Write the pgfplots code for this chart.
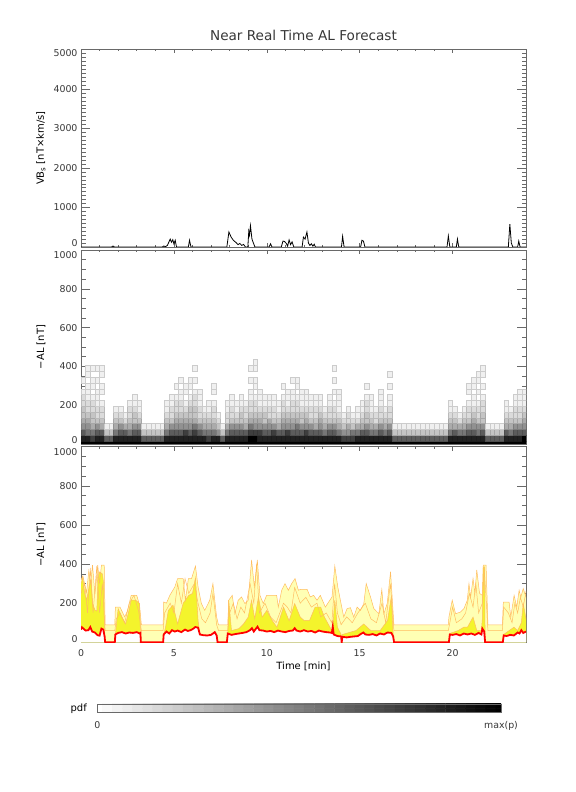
\documentclass[border=0pt]{standalone}
\usepackage{fontspec}
\setmainfont{DejaVu Sans}
\usepackage{pgfplots}
\pgfplotsset{compat=1.18}
\usepackage{pgfplotstable}

\definecolor{lyel}{RGB}{255,255,180}
\definecolor{byel}{RGB}{244,244,44}
\definecolor{orl}{RGB}{255,188,96}
\definecolor{txt}{RGB}{55,55,55}
\definecolor{frm}{RGB}{105,105,105}

\pgfdeclareplotmark{cell}{%
  \pgfpathrectangle{\pgfpoint{-2.3225bp}{-2.91bp}}{\pgfpoint{4.645bp}{5.82bp}}%
  \pgfusepathqfillstroke}

% pdf of -AL in 30 nT bins (b0 = 0 nT, b1 = 30 nT, ...), level 0..10
\pgfplotstableread{
t b0 b1 b2 b3 b4 b5 b6 b7 b8 b9 b10 b11 b12 b13 b14
0.125 10 9 7 5 4 3 3 2 2 1 0 1 0 0 0
0.375 10 9 6 5 4 3 2 2 1 1 1 0 1 1 0
0.625 10 8 6 4 3 3 2 2 1 0 1 1 0 1 0
0.875 10 9 7 5 3 2 2 1 1 1 0 1 0 1 0
1.125 10 9 7 4 3 2 2 1 0 1 1 0 1 1 0
1.375 10 7 3 1 0 0 0 0 0 0 0 0 0 0 0
1.625 10 7 3 1 0 0 0 0 0 0 0 0 0 0 0
1.875 10 9 6 4 3 2 1 0 0 0 0 0 0 0 0
2.125 10 9 7 5 3 2 1 0 0 0 0 0 0 0 0
2.375 10 9 7 4 2 1 0 0 0 0 0 0 0 0 0
2.625 10 9 6 4 3 2 2 1 0 0 0 0 0 0 0
2.875 10 9 7 5 3 3 2 1 1 0 0 0 0 0 0
3.125 10 9 7 5 3 2 1 1 0 0 0 0 0 0 0
3.375 10 7 3 1 0 0 0 0 0 0 0 0 0 0 0
3.625 10 7 3 1 0 0 0 0 0 0 0 0 0 0 0
3.875 10 7 3 1 0 0 0 0 0 0 0 0 0 0 0
4.125 10 7 3 1 0 0 0 0 0 0 0 0 0 0 0
4.375 10 7 3 1 0 0 0 0 0 0 0 0 0 0 0
4.625 10 9 6 4 3 2 1 1 0 0 0 0 0 0 0
4.875 10 9 7 5 3 2 2 1 1 0 0 0 0 0 0
5.125 10 9 7 5 4 3 2 2 1 0 1 0 0 0 0
5.375 10 9 7 5 4 3 2 2 1 1 0 1 0 0 0
5.625 10 9 8 5 4 3 2 1 0 1 1 0 0 0 0
5.875 10 9 7 5 4 3 3 2 1 0 1 1 0 0 0
6.125 10 9 8 6 4 3 3 2 2 1 0 1 0 1 0
6.375 10 9 7 5 3 2 2 1 1 1 0 0 0 0 0
6.625 10 9 6 4 3 2 1 0 0 0 0 0 0 0 0
6.875 10 8 6 4 3 2 1 1 0 0 0 0 0 0 0
7.125 10 9 6 4 3 2 2 1 0 1 1 0 0 0 0
7.375 10 9 5 3 2 1 0 0 0 0 0 0 0 0 0
7.625 10 7 3 1 0 0 0 0 0 0 0 0 0 0 0
7.875 10 9 6 4 2 2 1 1 0 0 0 0 0 0 0
8.125 10 9 7 5 3 2 2 1 1 0 0 0 0 0 0
8.375 10 9 7 5 3 2 1 1 0 0 0 0 0 0 0
8.625 10 9 7 5 3 3 2 1 1 0 0 0 0 0 0
8.875 10 9 7 4 3 2 2 1 0 0 0 0 0 0 0
9.125 10 10 8 6 4 3 2 2 1 1 0 1 0 1 0
9.375 10 10 8 5 4 3 2 2 1 0 1 1 0 1 1
9.625 10 9 8 5 4 3 2 1 1 1 0 0 0 0 0
9.875 10 9 7 5 3 3 2 1 1 0 0 0 0 0 0
10.125 10 9 7 5 4 2 2 1 1 0 0 0 0 0 0
10.375 10 9 8 5 3 2 2 1 1 0 0 0 0 0 0
10.625 10 9 7 4 3 2 1 1 0 0 0 0 0 0 0
10.875 10 9 7 5 4 3 2 2 1 0 1 0 0 0 0
11.125 10 9 8 5 4 3 2 1 1 1 0 0 0 0 0
11.375 10 9 7 5 4 3 2 2 1 1 0 1 0 0 0
11.625 10 9 7 6 4 3 2 2 1 0 1 1 0 0 0
11.875 10 9 7 5 3 3 2 1 1 1 0 0 0 0 0
12.125 10 9 8 5 4 3 2 1 1 1 0 0 0 0 0
12.375 10 9 7 5 3 2 2 1 1 0 0 0 0 0 0
12.625 10 9 7 4 3 2 2 1 1 0 0 0 0 0 0
12.875 10 9 7 5 4 3 2 1 1 0 0 0 0 0 0
13.125 10 9 6 4 3 2 1 0 0 0 0 0 0 0 0
13.375 10 9 7 5 3 2 2 1 1 0 0 0 0 0 0
13.625 10 9 7 5 3 2 2 1 0 1 0 1 0 1 0
13.875 10 9 6 4 3 2 1 1 1 1 0 0 0 0 0
14.125 10 8 5 3 2 1 0 0 0 0 0 0 0 0 0
14.375 10 8 5 4 2 2 1 0 0 0 0 0 0 0 0
14.625 10 8 6 3 2 1 0 0 0 0 0 0 0 0 0
14.875 10 9 6 4 2 1 1 0 0 0 0 0 0 0 0
15.125 10 9 7 4 3 2 1 1 0 0 0 0 0 0 0
15.375 10 9 7 5 3 3 2 2 1 0 1 0 0 0 0
15.625 10 9 6 4 3 2 1 1 1 0 0 0 0 0 0
15.875 10 9 6 4 2 2 1 0 0 0 0 0 0 0 0
16.125 10 9 7 5 3 2 2 1 1 1 0 0 0 0 0
16.375 10 9 6 4 3 2 1 0 0 0 0 0 0 0 0
16.625 10 9 7 5 3 2 2 1 1 0 1 0 1 0 0
16.875 10 7 3 1 0 0 0 0 0 0 0 0 0 0 0
17.125 10 7 3 1 0 0 0 0 0 0 0 0 0 0 0
17.375 10 7 3 1 0 0 0 0 0 0 0 0 0 0 0
17.625 10 7 3 1 0 0 0 0 0 0 0 0 0 0 0
17.875 10 7 3 1 0 0 0 0 0 0 0 0 0 0 0
18.125 10 7 3 1 0 0 0 0 0 0 0 0 0 0 0
18.375 10 7 3 1 0 0 0 0 0 0 0 0 0 0 0
18.625 10 7 3 1 0 0 0 0 0 0 0 0 0 0 0
18.875 10 7 3 1 0 0 0 0 0 0 0 0 0 0 0
19.125 10 7 3 1 0 0 0 0 0 0 0 0 0 0 0
19.375 10 7 3 1 0 0 0 0 0 0 0 0 0 0 0
19.625 10 7 3 1 0 0 0 0 0 0 0 0 0 0 0
19.875 10 9 6 4 3 2 1 1 0 0 0 0 0 0 0
20.125 10 9 7 4 3 2 1 0 0 0 0 0 0 0 0
20.375 10 9 6 4 2 1 0 0 0 0 0 0 0 0 0
20.625 10 9 6 4 3 2 1 0 0 0 0 0 0 0 0
20.875 10 9 7 5 3 2 2 1 0 1 1 0 0 0 0
21.125 10 9 7 5 4 3 2 1 1 0 1 1 0 0 0
21.375 10 9 6 5 3 2 2 1 0 1 0 1 1 0 0
21.625 10 9 7 5 3 3 2 2 1 0 1 0 1 1 0
21.875 10 7 3 1 0 0 0 0 0 0 0 0 0 0 0
22.125 10 7 3 1 0 0 0 0 0 0 0 0 0 0 0
22.375 10 7 3 1 0 0 0 0 0 0 0 0 0 0 0
22.625 10 7 3 1 0 0 0 0 0 0 0 0 0 0 0
22.875 10 9 7 4 3 2 1 1 0 0 0 0 0 0 0
23.125 10 9 6 4 3 2 1 0 0 0 0 0 0 0 0
23.375 10 9 7 5 3 2 2 1 1 0 0 0 0 0 0
23.625 10 9 7 5 3 2 2 1 1 1 0 0 0 0 0
23.875 10 10 7 5 4 3 2 1 1 1 0 0 0 0 0
}\pdftab

% upper envelope
\pgfplotstableread{
x y
0 318
0.1 340
0.3 254
0.42 365
0.52 300
0.62 395
0.75 245
0.9 395
1.0 300
1.1 395
1.25 395
1.3 89
1.82 89
1.85 180
2.1 180
2.35 130
2.5 160
2.7 240
3.0 240
3.15 190
3.25 89
4.42 89
4.45 206
4.6 200
4.78 240
5.05 283
5.2 326
5.5 326
5.62 215
5.78 326
5.95 326
6.16 390
6.3 283
6.48 198
6.66 163
6.93 215
7.1 300
7.3 129
7.4 89
7.9 89
7.95 215
8.14 240
8.28 146
8.46 215
8.64 232
8.82 198
9.0 215
9.18 421
9.33 283
9.49 421
9.63 240
9.81 198
9.99 240
10.53 240
10.62 180
10.8 266
10.98 300
11.16 266
11.34 300
11.52 326
11.7 266
11.8 270
12.17 270
12.34 232
12.52 240
12.7 215
12.88 240
13.15 180
13.33 206
13.51 232
13.66 390
13.82 283
13.96 215
14.14 129
14.32 172
14.5 177
14.68 129
14.86 180
15.04 163
15.22 198
15.35 300
15.58 232
15.76 172
16.03 146
16.19 270
16.3 146
16.48 198
16.66 361
16.84 89
19.77 89
19.8 129
19.98 215
20.16 146
20.43 155
20.61 172
20.79 215
20.88 300
20.97 230
21.1 326
21.2 250
21.3 370
21.45 250
21.6 240
21.65 395
21.8 395
21.9 89
22.68 89
22.73 206
23.04 206
23.13 129
23.31 240
23.45 180
23.58 266
23.67 230
23.8 275
23.95 230
}\Atab

% most probable value (red)
\pgfplotstableread{
x y
0 65
0.05 77
0.15 68
0.25 60
0.4 62
0.5 78
0.6 55
0.75 50
0.9 36
1.0 34
1.1 70
1.2 65
1.27 30
1.3 0
1.82 0
1.85 40
2.0 48
2.2 52
2.4 45
2.6 50
2.8 48
3.0 52
3.15 45
3.2 48
3.22 0
4.42 0
4.45 40
4.6 55
4.75 45
4.9 62
5.05 55
5.2 60
5.4 52
5.6 65
5.75 58
5.9 62
6.05 70
6.15 78
6.3 75
6.4 40
6.6 36
6.8 35
7.0 38
7.2 52
7.3 35
7.35 0
7.85 0
7.9 45
8.1 38
8.3 42
8.5 45
8.7 48
8.9 52
9.1 62
9.2 72
9.3 55
9.5 80
9.6 62
9.8 60
10.0 55
10.2 58
10.4 52
10.6 60
10.8 55
11.0 52
11.2 58
11.4 60
11.5 72
11.6 60
11.8 55
12.0 62
12.2 55
12.4 58
12.6 50
12.8 60
13.0 55
13.2 52
13.4 50
13.5 48
13.55 80
13.6 40
13.8 32
14.0 30
14.03 0
14.07 28
14.3 25
14.5 28
14.7 30
14.9 32
15.1 45
15.2 50
15.3 40
15.5 38
15.7 42
15.9 35
16.1 45
16.3 40
16.5 50
16.7 48
16.8 30
16.85 0
19.8 0
19.85 40
20.0 38
20.2 42
20.4 35
20.6 45
20.8 40
21.0 45
21.2 38
21.4 48
21.55 40
21.6 70
21.7 55
21.75 0
22.7 0
22.75 35
22.9 32
23.1 38
23.3 35
23.5 50
23.6 45
23.7 62
23.8 48
23.95 55
}\Rtab

% inner envelope (bright yellow)
\pgfplotstableread{
x y
0 300
0.1 330
0.2 250
0.3 215
0.45 290
0.55 320
0.62 200
0.75 165
0.85 160
0.92 330
1.0 360
1.15 350
1.22 300
1.27 30
1.3 0
1.82 0
1.85 40
2.0 172
2.2 129
2.4 94
2.55 150
2.7 215
2.95 215
3.15 198
3.2 48
3.22 0
4.42 0
4.45 40
4.55 77
4.7 163
4.95 190
5.2 94
5.5 200
5.8 240
6.0 250
6.16 330
6.3 112
6.4 40
6.6 36
6.8 35
7.0 38
7.2 52
7.3 35
7.35 0
7.85 0
7.9 45
7.95 215
8.1 60
8.5 70
8.75 94
9.0 129
9.18 215
9.35 120
9.55 232
9.75 129
10.0 163
10.3 110
10.55 77
10.9 180
11.2 110
11.5 198
11.8 129
12.0 112
12.3 112
12.6 180
12.9 180
13.1 129
13.4 77
13.5 60
13.55 80
13.66 215
13.8 77
14.0 40
14.03 0
14.07 40
14.8 60
15.22 94
15.4 77
15.6 60
16.1 60
16.5 112
16.7 232
16.8 40
16.85 0
19.8 0
19.85 45
20.3 60
20.6 77
20.8 77
21.1 129
21.3 60
21.55 60
21.6 120
21.65 386
21.72 386
21.75 0
22.7 0
22.75 40
23.3 77
23.5 60
23.7 100
23.8 198
23.95 120
}\Ctab

% intermediate envelope
\pgfplotstableread{
x y
0 250
0.2 300
0.35 150
0.5 380
0.65 150
0.85 390
1.0 150
1.15 300
1.3 60
1.82 60
1.9 120
2.1 150
2.35 100
2.6 200
2.85 240
3.1 160
3.25 60
4.42 60
4.5 150
4.8 200
5.0 150
5.2 300
5.4 200
5.6 326
5.8 250
6.1 300
6.3 200
6.5 120
6.7 100
6.95 150
7.1 250
7.3 90
7.4 60
7.9 60
8.0 150
8.2 200
8.4 120
8.6 180
8.8 150
9.1 300
9.3 200
9.45 400
9.6 150
9.9 200
10.2 130
10.5 100
10.7 150
10.9 200
11.1 180
11.3 150
11.5 280
11.8 200
12.1 230
12.4 180
12.7 200
12.9 130
13.2 150
13.5 100
13.65 300
13.8 150
14.0 90
14.3 130
14.6 100
14.9 150
15.3 200
15.6 120
15.9 100
16.2 200
16.4 100
16.65 300
16.84 60
19.77 60
19.85 100
20.0 180
20.2 100
20.5 120
20.7 150
20.9 250
21.1 180
21.25 300
21.4 150
21.6 200
21.7 380
21.85 150
21.9 60
22.68 60
22.75 180
23.0 150
23.2 100
23.35 200
23.5 150
23.65 230
23.8 180
23.95 260
}\Btab

\pgfplotsset{
  panel/.style={scale only axis, width=445bp, xmin=0, xmax=23.95,
    axis line style={frm, line width=0.5pt}, tick style={frm, line width=0.5pt},
    major tick length=9bp, minor tick length=4.5bp,
    xtick style={/pgfplots/major tick length=4bp, /pgfplots/minor tick length=2bp},
    xtick={0,5,10,15,20}, minor x tick num=4,
    tick label style={font=\fontsize{9.4bp}{11bp}\selectfont, text=txt},
    /pgf/number format/assume math mode=true, /pgf/number format/1000 sep={},
    label style={font=\fontsize{10.3bp}{12bp}\selectfont, text=txt},
    every axis y label/.style={at={([xshift=-40bp]axis description cs:0,0.5)}, rotate=90, anchor=center},
  },
  alticks/.style={ymin=0, ymax=1000, ytick={0,200,400,600,800,1000}, minor y tick num=3,
    yticklabels={\raisebox{0pt}[0pt][0pt]{0},200,400,600,800,\raisebox{-8.4bp}[0pt][0pt]{1000}}},
  cellplot/.style={only marks, scatter, mark=cell, point meta=explicit,
    scatter/use mapped color={draw=mapped color!85!black, fill=mapped color},
    mark options={line width=0.3pt}},
}

\begin{document}
\begin{tikzpicture}
\useasboundingbox (0,0) rectangle (576bp,792bp);

% ---------------- top panel: VBs
\begin{axis}[panel, at={(81bp,545bp)}, anchor=south west, height=197.5bp,
  ymin=0, ymax=5000, ytick={0,1000,2000,3000,4000,5000}, minor y tick num=9,
  yticklabels={\raisebox{0pt}[0pt][0pt]{0},1000,2000,3000,4000,\raisebox{-7.2bp}[0pt][0pt]{5000}},
  xticklabels={},
  ylabel={VB\textsubscript{s} [nT×km/s]},
  title={Near Real Time AL Forecast},
  title style={at={([yshift=8bp]axis description cs:0.5,1)}, anchor=center,
    font=\fontsize{13.6bp}{16bp}\selectfont, text=txt}]
\addplot[black, line width=0.8pt] coordinates {
(0,0)(1.65,0)(1.72,25)(1.8,0)(4.38,0)(4.45,25)(4.55,10)(4.65,40)(4.8,200)(4.87,120)
(4.94,185)(5.0,80)(5.07,170)(5.14,0)(5.78,0)(5.84,170)(5.92,0)(7.85,0)(7.96,380)(8.08,250)
(8.2,170)(8.35,110)(8.45,60)(8.55,90)(8.65,40)(8.75,65)(8.85,0)(8.98,0)(9.03,400)(9.07,300)
(9.12,540)(9.2,200)(9.28,100)(9.36,0)(10.12,0)(10.2,80)(10.28,0)(10.78,0)(10.87,150)(10.95,140)
(11.05,90)(11.12,20)(11.2,180)(11.28,60)(11.36,130)(11.45,0)(11.9,0)(11.97,250)(12.06,200)(12.16,380)
(12.24,100)(12.32,40)(12.4,80)(12.48,20)(12.55,70)(12.62,0)(14.02,0)(14.08,270)(14.16,0)(15.05,0)
(15.12,170)(15.2,150)(15.28,0)(19.7,0)(19.77,280)(19.85,0)(20.2,0)(20.26,200)(20.33,0)(23.0,0)
(23.08,580)(23.16,100)(23.24,0)(23.5,0)(23.56,150)(23.63,0)(23.95,0)};
\end{axis}

% ---------------- middle panel: pdf
\begin{axis}[panel, alticks, at={(81bp,348bp)}, anchor=south west, height=194bp,
  xticklabels={}, ylabel={−AL [nT]},
  clip marker paths=true,
  colormap={pdfgray}{gray(0cm)=(1); gray(1cm)=(0.94); gray(2cm)=(0.86); gray(3cm)=(0.77);
    gray(5cm)=(0.57); gray(7cm)=(0.36); gray(9cm)=(0.13); gray(10cm)=(0)},
  point meta min=0, point meta max=10]
\addplot[cellplot] table[x=t, y expr=0, meta=b0, restrict expr to domain={\thisrow{b0}}{0.5:11}] {\pdftab};
\addplot[cellplot] table[x=t, y expr=30, meta=b1, restrict expr to domain={\thisrow{b1}}{0.5:11}] {\pdftab};
\addplot[cellplot] table[x=t, y expr=60, meta=b2, restrict expr to domain={\thisrow{b2}}{0.5:11}] {\pdftab};
\addplot[cellplot] table[x=t, y expr=90, meta=b3, restrict expr to domain={\thisrow{b3}}{0.5:11}] {\pdftab};
\addplot[cellplot] table[x=t, y expr=120, meta=b4, restrict expr to domain={\thisrow{b4}}{0.5:11}] {\pdftab};
\addplot[cellplot] table[x=t, y expr=150, meta=b5, restrict expr to domain={\thisrow{b5}}{0.5:11}] {\pdftab};
\addplot[cellplot] table[x=t, y expr=180, meta=b6, restrict expr to domain={\thisrow{b6}}{0.5:11}] {\pdftab};
\addplot[cellplot] table[x=t, y expr=210, meta=b7, restrict expr to domain={\thisrow{b7}}{0.5:11}] {\pdftab};
\addplot[cellplot] table[x=t, y expr=240, meta=b8, restrict expr to domain={\thisrow{b8}}{0.5:11}] {\pdftab};
\addplot[cellplot] table[x=t, y expr=270, meta=b9, restrict expr to domain={\thisrow{b9}}{0.5:11}] {\pdftab};
\addplot[cellplot] table[x=t, y expr=300, meta=b10, restrict expr to domain={\thisrow{b10}}{0.5:11}] {\pdftab};
\addplot[cellplot] table[x=t, y expr=330, meta=b11, restrict expr to domain={\thisrow{b11}}{0.5:11}] {\pdftab};
\addplot[cellplot] table[x=t, y expr=360, meta=b12, restrict expr to domain={\thisrow{b12}}{0.5:11}] {\pdftab};
\addplot[cellplot] table[x=t, y expr=390, meta=b13, restrict expr to domain={\thisrow{b13}}{0.5:11}] {\pdftab};
\addplot[cellplot] table[x=t, y expr=420, meta=b14, restrict expr to domain={\thisrow{b14}}{0.5:11}] {\pdftab};
\end{axis}

% ---------------- bottom panel: forecast
\begin{axis}[panel, alticks, at={(81bp,149.7bp)}, anchor=south west, height=195.6bp,
  ylabel={−AL [nT]}, xlabel={Time [min]},
  xticklabel style={anchor=base, yshift=-13.9bp},
  every axis x label/.style={at={([yshift=-24.4bp]axis description cs:0.5,0)}, anchor=center}]
\addplot[fill=lyel, draw=none] table {\Atab} \closedcycle;
\addplot[fill=byel, draw=none] table {\Ctab} \closedcycle;
\addplot[fill=white, draw=none] table {\Rtab} \closedcycle;
\addplot[orl, line width=0.5pt] table {\Btab};
\addplot[orl, line width=0.5pt] table {\Ctab};
\addplot[orl, line width=0.5pt] table {\Atab};
\addplot[red, line width=1.8pt] table {\Rtab};
\end{axis}

% ---------------- colour bar
\begin{axis}[at={(97.3bp,79.3bp)}, anchor=south west, scale only axis, axis on top,
  width=403.7bp, height=8.7bp, xmin=0, xmax=10, ymin=0, ymax=1,
  axis line style={frm, line width=0.5pt}, ytick=\empty,
  xtick={0,10}, xticklabels={0,max(p)}, major tick length=0pt,
  xticklabel style={anchor=base, yshift=-15.8bp, font=\fontsize{9.4bp}{11bp}\selectfont, text=txt},
  colormap={lin}{gray(0cm)=(1); gray(1cm)=(0)},
  point meta min=0, point meta max=10,
  ylabel={pdf}, ylabel style={font=\fontsize{9.4bp}{11bp}\selectfont, text=txt},
  every axis y label/.style={at={([xshift=-7bp]axis description cs:0,0.5)}, anchor=east}]
\addplot[matrix plot*, point meta=x, mesh/cols=41] coordinates {
(0,0)(0.25,0)(0.5,0)(0.75,0)(1,0)(1.25,0)(1.5,0)(1.75,0)(2,0)(2.25,0)(2.5,0)(2.75,0)(3,0)(3.25,0)
(3.5,0)(3.75,0)(4,0)(4.25,0)(4.5,0)(4.75,0)(5,0)(5.25,0)(5.5,0)(5.75,0)(6,0)(6.25,0)(6.5,0)(6.75,0)
(7,0)(7.25,0)(7.5,0)(7.75,0)(8,0)(8.25,0)(8.5,0)(8.75,0)(9,0)(9.25,0)(9.5,0)(9.75,0)(10,0)
(0,1)(0.25,1)(0.5,1)(0.75,1)(1,1)(1.25,1)(1.5,1)(1.75,1)(2,1)(2.25,1)(2.5,1)(2.75,1)(3,1)(3.25,1)
(3.5,1)(3.75,1)(4,1)(4.25,1)(4.5,1)(4.75,1)(5,1)(5.25,1)(5.5,1)(5.75,1)(6,1)(6.25,1)(6.5,1)(6.75,1)
(7,1)(7.25,1)(7.5,1)(7.75,1)(8,1)(8.25,1)(8.5,1)(8.75,1)(9,1)(9.25,1)(9.5,1)(9.75,1)(10,1)};
\end{axis}
\end{tikzpicture}
\end{document}
